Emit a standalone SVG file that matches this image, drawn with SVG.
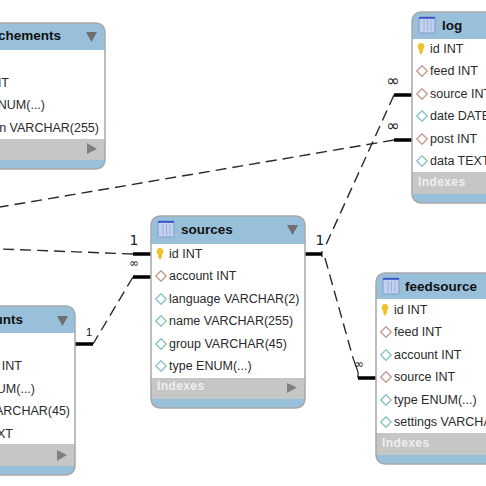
<svg xmlns="http://www.w3.org/2000/svg" width="486" height="486" viewBox="0 0 486 486">
<style>
text{font-family:"Liberation Sans",Arial,sans-serif}
.hd{fill:#98c0da}
.ix{fill:#c6c6c6}
.bd{fill:none;stroke:#a8a8a8;stroke-width:1.500}
.t{font-size:13.500px;font-weight:bold;fill:#111}
.r{font-size:12.500px;fill:#2a2a2a}
.i{font-size:12px;font-weight:bold;fill:#eee;letter-spacing:.4px}
.tri{fill:#6e6e6e}
.tri2{fill:#808080}
.dash{fill:none;stroke:#2a2a2a;stroke-width:1.400;stroke-dasharray:11 6}
.thin{fill:none;stroke:#222;stroke-width:1.200}
.thick{fill:none;stroke:#000;stroke-width:3.500}
.lb{font-family:"DejaVu Sans",sans-serif;font-size:14px;fill:#222}
.lbs{font-size:11px;fill:#111}
.inf{font-family:"DejaVu Sans",sans-serif;font-size:16px;fill:#222}
.infs{font-family:"DejaVu Sans",sans-serif;font-size:12px;fill:#222}
.fk{fill:#fff;stroke:#c69c96;stroke-width:1.400}
.col{fill:#fff;stroke:#8cc4c8;stroke-width:1.400}
.ico{fill:#c2d2ee;stroke:#7f97cc;stroke-width:1}
.ict{fill:#3a55c8}
.icl{stroke:#9db0dc;stroke-width:1}
.key{fill:#eec22a}
</style>
<defs>
<g id="fk"><path class="fk" d="M-5.200 0L0-5.200L5.200 0L0 5.200Z"/></g>
<g id="col"><path class="col" d="M-5.200 0L0-5.200L5.200 0L0 5.200Z"/></g>
<g id="key"><ellipse class="key" cx="0" cy="-2.500" rx="3.300" ry="3.500"/><path class="key" d="M-1.800-1H1.800V3L0 6L-1.800 3Z"/></g>
<g id="ico"><rect class="ico" x="0" y="0" width="16" height="16" rx="1.500"/><rect class="ict" x="0" y="0" width="16" height="1.800"/><path class="icl" d="M5 3V14M8.500 3V14M12 3V14"/></g>
</defs>
<g id="connectors">
<path class="dash" d="M394 95L325 247"/>
<path class="dash" d="M325 258L353 358"/>
<path class="thin" d="M353 358L358 372V378M322 251V257"/>
<path class="dash" d="M394 140L0 207"/>
<path class="dash" d="M133 254L0 249"/>
<path class="dash" d="M133 277L93 344"/>
<path class="thick" d="M394 95H412M394 140H412M305 254H322M358 378H376M133 254H151M133 277H151M75 344H93"/>
<text class="lb" x="134" y="245" text-anchor="middle">1</text>
<text class="infs" x="134" y="267" text-anchor="middle">∞</text>
<text class="lbs" x="89" y="336" text-anchor="middle">1</text>
<text class="lb" x="320" y="245" text-anchor="middle">1</text>
<text class="inf" x="393" y="86" text-anchor="middle">∞</text>
<text class="inf" x="393" y="131" text-anchor="middle">∞</text>
<text class="infs" x="359" y="368" text-anchor="middle">∞</text>
</g>
<g id="attachments">
<rect class="hd" x="-60" y="23" width="165" height="146" rx="9"/>
<rect x="-60" y="50" width="165" height="89" fill="#fff"/>
<rect class="ix" x="-60" y="139" width="165" height="21"/>
<rect class="bd" x="-60" y="23" width="165" height="146" rx="9"/>
<text class="t" x="61" y="40" text-anchor="end">chements</text>
<path class="tri" d="M86 32H97L91.500 42Z"/>
<path class="tri2" d="M87 143L97 149L87 154Z"/>
<text class="r" x="9" y="87" text-anchor="end">NT</text>
<text class="r" x="45" y="109" text-anchor="end">NUM(...)</text>
<text class="r" x="99" y="132" text-anchor="end">n VARCHAR(255)</text>
</g>
<g id="accounts">
<rect class="hd" x="-60" y="306" width="135" height="169" rx="9"/>
<rect x="-60" y="333" width="135" height="111" fill="#fff"/>
<rect class="ix" x="-60" y="444" width="135" height="22"/>
<rect class="bd" x="-60" y="306" width="135" height="169" rx="9"/>
<text class="t" x="23" y="324" text-anchor="end">unts</text>
<path class="tri" d="M57 316H68L62.500 326Z"/>
<path class="tri2" d="M57 450L67 455L57 461Z"/>
<text class="r" x="22" y="370" text-anchor="end">INT</text>
<text class="r" x="35" y="393" text-anchor="end">UM(...)</text>
<text class="r" x="70" y="415" text-anchor="end">ARCHAR(45)</text>
<text class="r" x="13" y="438" text-anchor="end">XT</text>
</g>
<g id="sources">
<rect class="hd" x="151" y="216" width="154" height="192" rx="9"/>
<rect x="151" y="244" width="154" height="134" fill="#fff"/>
<rect class="ix" x="151" y="378" width="154" height="21"/>
<rect class="bd" x="151" y="216" width="154" height="192" rx="9"/>
<use href="#ico" x="158" y="221"/>
<text class="t" x="181" y="234">sources</text>
<path class="tri" d="M287 225H298L292.500 235Z"/>
<use href="#key" x="160" y="254"/><text class="r" x="169" y="258">id INT</text>
<use href="#fk" x="161" y="276"/><text class="r" x="169" y="280">account INT</text>
<use href="#col" x="161" y="299"/><text class="r" x="169" y="303">language VARCHAR(2)</text>
<use href="#col" x="161" y="321"/><text class="r" x="169" y="325">name VARCHAR(255)</text>
<use href="#col" x="161" y="344"/><text class="r" x="169" y="348">group VARCHAR(45)</text>
<use href="#col" x="161" y="366"/><text class="r" x="169" y="370">type ENUM(...)</text>
<text class="i" x="157" y="390">Indexes</text>
<path class="tri2" d="M287 383L297 387.500L287 393Z"/>
</g>
<g id="log">
<rect class="hd" x="412" y="12" width="120" height="191" rx="9"/>
<rect x="412" y="39" width="120" height="133" fill="#fff"/>
<rect class="ix" x="412" y="172" width="120" height="22"/>
<rect class="bd" x="412" y="12" width="120" height="191" rx="9"/>
<use href="#ico" x="419" y="17"/>
<text class="t" x="442" y="30">log</text>
<use href="#key" x="421" y="49"/><text class="r" x="430" y="53">id INT</text>
<use href="#fk" x="422" y="71"/><text class="r" x="430" y="75">feed INT</text>
<use href="#fk" x="422" y="94"/><text class="r" x="430" y="98">source INT</text>
<use href="#col" x="422" y="116"/><text class="r" x="430" y="120">date DATETIME</text>
<use href="#fk" x="422" y="139"/><text class="r" x="430" y="143">post INT</text>
<use href="#col" x="422" y="161"/><text class="r" x="430" y="165">data TEXT</text>
<text class="i" x="418" y="186">Indexes</text>
</g>
<g id="feedsource">
<rect class="hd" x="376" y="273" width="156" height="191" rx="9"/>
<rect x="376" y="299" width="156" height="134" fill="#fff"/>
<rect class="ix" x="376" y="433" width="156" height="22"/>
<rect class="bd" x="376" y="273" width="156" height="191" rx="9"/>
<use href="#ico" x="383" y="278"/>
<text class="t" x="405" y="291">feedsource</text>
<use href="#key" x="385" y="310"/><text class="r" x="394" y="314">id INT</text>
<use href="#fk" x="386" y="332"/><text class="r" x="394" y="336">feed INT</text>
<use href="#col" x="386" y="355"/><text class="r" x="394" y="359">account INT</text>
<use href="#fk" x="386" y="377"/><text class="r" x="394" y="381">source INT</text>
<use href="#col" x="386" y="400"/><text class="r" x="394" y="404">type ENUM(...)</text>
<use href="#col" x="386" y="422"/><text class="r" x="394" y="426">settings VARCHAR(255)</text>
<text class="i" x="382" y="447">Indexes</text>
</g>
</svg>
